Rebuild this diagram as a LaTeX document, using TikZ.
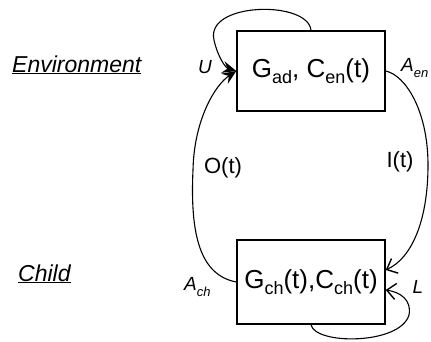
\documentclass[tikz,border=0pt]{standalone}
\usepackage{fontspec}
\setmainfont{Liberation Sans}
\usetikzlibrary{arrows.meta,calc}
\newcommand{\bsub}[1]{\raisebox{-0.22em}{\fontsize{18}{18}\selectfont #1}}
\newcommand{\ssub}[1]{\raisebox{-0.28em}{\fontsize{13}{13}\selectfont\itshape #1}}
\begin{document}
\begin{tikzpicture}[x=1pt,y=-1pt,
  boxnode/.style={draw,line width=1.4pt,minimum width=148pt,inner sep=0pt,font=\fontsize{26}{26}\selectfont},
  lbl/.style={inner sep=0pt,font=\fontsize{19}{19}\selectfont\itshape},
  midlbl/.style={inner sep=0pt,font=\fontsize{22}{22}\selectfont},
  side/.style={inner sep=0pt,font=\fontsize{23}{23}\selectfont\itshape},
  conn/.style={line width=1.1pt},
  headin/.style={-{Stealth[length=14pt,width=12pt,inset=5pt]}},
  barbin/.style={-{Straight Barb[length=9pt,width=16pt,line width=1.4pt]}}]
\useasboundingbox (0,0) rectangle (431,341);
\node[boxnode,minimum height=80pt] (top) at (311,71) {G\bsub{ad}, C\bsub{en}(t)};
\node[boxnode,minimum height=84pt] (bot) at (311,282) {G\bsub{ch}(t),C\bsub{ch}(t)};
\coordinate (tw) at (top.west);
\coordinate (be1) at ($(bot.east)+(0,-12)$);
\coordinate (be2) at ($(bot.east)+(0,8)$);
% top self loop (U)
\draw[conn,headin] (top.north) .. controls (308,0) and (205,2) .. (214,40) .. controls (218,58) and (226,68) .. (tw);
% O(t) curve
\draw[conn,headin] (bot.west) .. controls (200,275) and (190,235) .. (193,170) .. controls (194,120) and (215,85) .. (tw);
% I(t) curve
\draw[conn,barbin] (top.east) .. controls (405,75) and (428,110) .. (428,165) .. controls (428,220) and (412,258) .. (be1);
% bottom self loop (L)
\draw[conn,barbin] (bot.south) .. controls (315,345) and (400,345) .. (409,315) .. controls (412,300) and (400,292) .. (be2);
% labels
\node[lbl] (u) at (205,67) {U};
\node[lbl,anchor=west] (aen) at (401,68) {A\ssub{en}};
\node[lbl,anchor=west] (ach) at (184,287) {A\ssub{ch}};
\node[lbl] (l) at (418,287) {L};
\node[midlbl] (ot) at (223,168) {O(t)};
\node[midlbl] (it) at (400,162) {I(t)};
\node[side,anchor=base west] (env) at (12,72) {\underline{Environment}};
\node[side,anchor=base west] (child) at (18,281) {\underline{Child}};
\end{tikzpicture}
\end{document}
